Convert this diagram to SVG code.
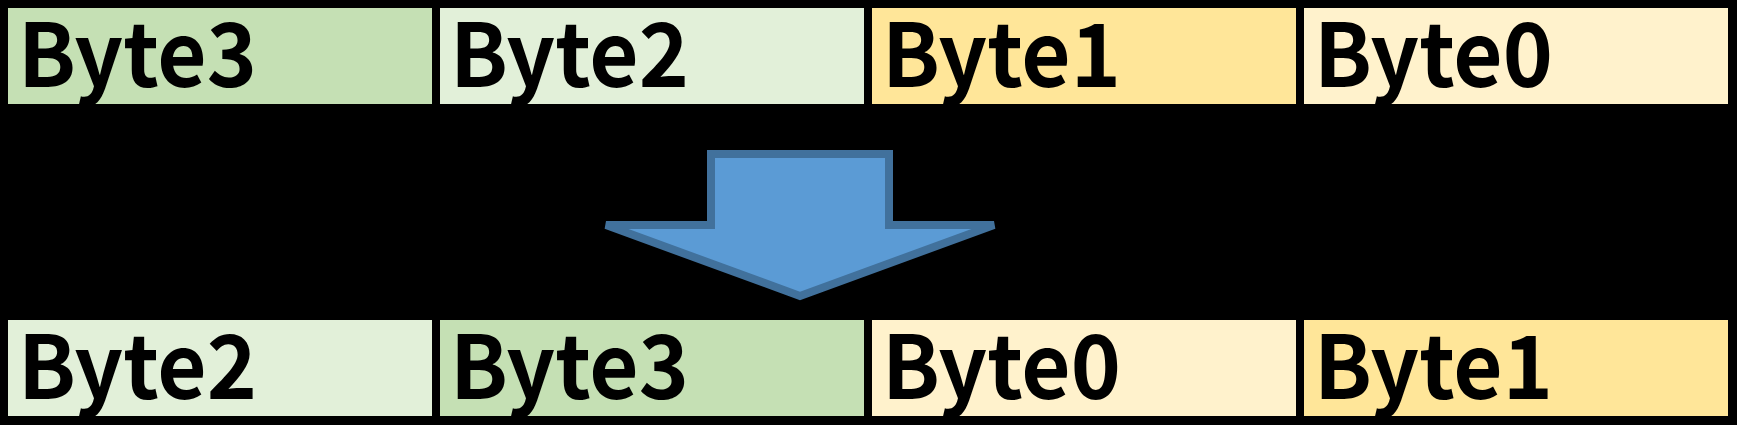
<svg xmlns="http://www.w3.org/2000/svg" width="1737" height="425" viewBox="0 0 1737 425">
<style>
.lbl{font-family:"Noto Sans CJK JP","Liberation Sans",sans-serif;font-weight:bold;font-size:88px;fill:#000}
.g3{fill:#C5E0B4}.g2{fill:#E2F0D9}.y1{fill:#FFE699}.y0{fill:#FFF2CC}
</style>
<rect x="0" y="0" width="1737" height="425" fill="#000"/>
<g id="top-byte3"><rect class="g3" x="8" y="8" width="424" height="96"/><text class="lbl" x="18" y="87" textLength="239" lengthAdjust="spacingAndGlyphs">Byte3</text></g>
<g id="top-byte2"><rect class="g2" x="440" y="8" width="424" height="96"/><text class="lbl" x="450" y="87" textLength="239" lengthAdjust="spacingAndGlyphs">Byte2</text></g>
<g id="top-byte1"><rect class="y1" x="872" y="8" width="424" height="96"/><text class="lbl" x="882" y="87" textLength="239" lengthAdjust="spacingAndGlyphs">Byte1</text></g>
<g id="top-byte0"><rect class="y0" x="1304" y="8" width="424" height="96"/><text class="lbl" x="1314" y="87" textLength="239" lengthAdjust="spacingAndGlyphs">Byte0</text></g>
<g id="connectors">
<polygon id="arrow" points="711,154 889,154 889,225 994,225 800,296 606,225 711,225" fill="#5B9BD5" stroke="#41719C" stroke-width="8"/>
</g>
<g id="bot-byte2"><rect class="g2" x="8" y="320" width="424" height="96"/><text class="lbl" x="18" y="399" textLength="239" lengthAdjust="spacingAndGlyphs">Byte2</text></g>
<g id="bot-byte3"><rect class="g3" x="440" y="320" width="424" height="96"/><text class="lbl" x="450" y="399" textLength="239" lengthAdjust="spacingAndGlyphs">Byte3</text></g>
<g id="bot-byte0"><rect class="y0" x="872" y="320" width="424" height="96"/><text class="lbl" x="882" y="399" textLength="239" lengthAdjust="spacingAndGlyphs">Byte0</text></g>
<g id="bot-byte1"><rect class="y1" x="1304" y="320" width="424" height="96"/><text class="lbl" x="1314" y="399" textLength="239" lengthAdjust="spacingAndGlyphs">Byte1</text></g>
</svg>
